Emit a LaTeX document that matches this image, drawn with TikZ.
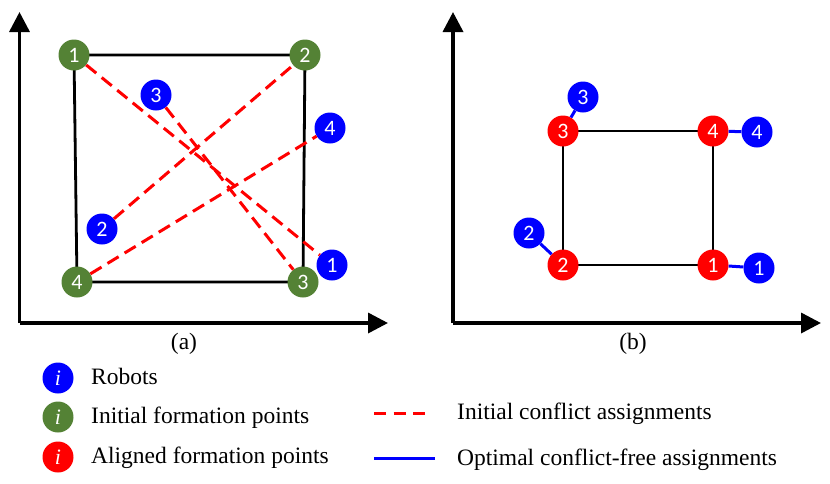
\documentclass[tikz,border=0pt]{standalone}
\usepackage{fontspec}
\setmainfont{Liberation Serif}
\newfontfamily\numfont{Carlito}
\usetikzlibrary{arrows.meta,backgrounds}
\definecolor{robotblue}{RGB}{0,0,255}
\definecolor{initgreen}{RGB}{84,130,53}
\definecolor{alignred}{RGB}{255,0,0}
\tikzset{
  dot/.style={circle,inner sep=0pt,minimum size=31pt,text=white,font=\numfont\fontsize{22}{22}\selectfont},
  robot/.style={dot,fill=robotblue},
  initpt/.style={dot,fill=initgreen},
  alignpt/.style={dot,fill=alignred},
  axis/.style={line width=3.5pt,-{Triangle[length=20pt,width=20pt]}},
  frame/.style={line width=2.8pt,black},
  conflict/.style={line width=3pt,alignred,dash pattern=on 13pt off 7pt},
  optimal/.style={line width=3pt,robotblue},
  legtext/.style={anchor=base west,inner sep=0pt,font=\fontsize{23.5}{23.5}\selectfont},
  caption/.style={anchor=base,inner sep=0pt,font=\fontsize{23.5}{23.5}\selectfont},
  legdot/.style={circle,inner sep=0pt,minimum size=31pt,text=white,font=\fontsize{22}{22}\selectfont\itshape}
}
\begin{document}
\begin{tikzpicture}[x=1pt,y=-1pt]
\useasboundingbox (0,0) rectangle (830,483);
% axes (a)
\coordinate (oa) at (19.5,323);
\coordinate (ya) at (19.5,12);
\coordinate (xa) at (388,323);
\draw[axis] (oa) -- (ya);
\draw[axis] (oa) -- (xa);
% axes (b)
\coordinate (ob) at (453,323);
\coordinate (yb) at (453,12);
\coordinate (xb) at (821,323);
\draw[axis] (ob) -- (yb);
\draw[axis] (ob) -- (xb);
% panel (a)
\node[initpt] (g1) at (74,55) {1};
\node[initpt] (g2) at (305,55) {2};
\node[initpt] (g3) at (303,282) {3};
\node[initpt] (g4) at (77,282) {4};
\node[robot] (r1) at (332,265) {1};
\node[robot] (r2) at (102,229) {2};
\node[robot] (r3) at (156,95) {3};
\node[robot] (r4) at (330,128) {4};
% panel (b)
\node[alignpt] (a1) at (713,265) {1};
\node[alignpt] (a2) at (563,265) {2};
\node[alignpt] (a3) at (563,131) {3};
\node[alignpt] (a4) at (713,131) {4};
\node[robot] (b1) at (759,268) {1};
\node[robot] (b2) at (529,233) {2};
\node[robot] (b3) at (583,97) {3};
\node[robot] (b4) at (757,132) {4};
\begin{scope}[on background layer]
  \draw[frame] (g1.center) -- (g2.center) -- (g3.center) -- (g4.center) -- cycle;
  \draw[frame] (a3.center) -- (a4.center) -- (a1.center) -- (a2.center) -- cycle;
\end{scope}
\draw[conflict] (g1) -- (r1);
\draw[conflict] (r2) -- (g2);
\draw[conflict] (r3) -- (g3);
\draw[conflict] (g4) -- (r4);
\draw[optimal] (a1) -- (b1);
\draw[optimal] (a2) -- (b2);
\draw[optimal] (a3) -- (b3);
\draw[optimal] (a4) -- (b4);
% captions
\node[caption] (capa) at (184,349) {(a)};
\node[caption] (capb) at (633,349) {(b)};
% legend
\node[legdot,fill=robotblue] (lr) at (58,378) {i};
\node[legdot,fill=initgreen] (lg) at (58,417) {i};
\node[legdot,fill=alignred] (la) at (58,457) {i};
\node[legtext] (tr) at (91,384) {Robots};
\node[legtext] (tg) at (91,423) {Initial formation points};
\node[legtext] (ta) at (91,463) {Aligned formation points};
\coordinate (lc1) at (374,413);
\coordinate (lc2) at (431,413);
\coordinate (lo1) at (374,458);
\coordinate (lo2) at (435,458);
\draw[line width=3pt,alignred,dash pattern=on 12pt off 7.5pt] (lc1) -- (lc2);
\draw[optimal] (lo1) -- (lo2);
\node[legtext] (tc) at (457,419) {Initial conflict assignments};
\node[legtext] (to) at (457,465) {Optimal conflict-free assignments};
\end{tikzpicture}
\end{document}
